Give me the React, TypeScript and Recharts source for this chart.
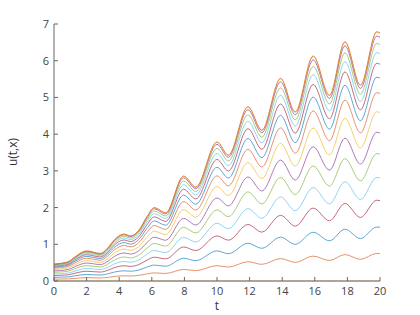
import { LineChart, Line, XAxis, YAxis } from "recharts";

document.body.style.margin = "0";

// time points (peaks / troughs of the outermost curve, plus a few early points)
const T = [0, 0.4, 0.9, 1.3, 2.0, 2.85, 3.3, 3.7, 4.3, 4.7, 5.2, 5.7, 6.15, 6.85, 7.95, 8.7, 10.0, 10.7, 11.9, 12.75, 13.9, 14.8, 15.9, 16.9, 17.85, 18.8, 19.8, 20];
// u(t, x=1)
const TOP = [0.46, 0.48, 0.53, 0.66, 0.82, 0.75, 0.9, 1.12, 1.28, 1.23, 1.38, 1.75, 2.0, 1.86, 2.86, 2.56, 3.79, 3.43, 4.75, 4.11, 5.52, 4.61, 6.13, 5.06, 6.52, 5.34, 6.79, 6.76];
// value of each curve at t≈20 (bottom to top)
const END = [0, 0.75, 1.47, 2.2, 2.82, 3.47, 4.05, 4.61, 5.13, 5.55, 5.93, 6.22, 6.47, 6.67, 6.77, 6.79];
const COLORS = ["#EDB120", "#D95319", "#0072BD", "#A2142F", "#4DBEEE", "#77AC30", "#7E2F8E"];
const X_TICKS = [0, 2, 4, 6, 8, 10, 12, 14, 16, 18, 20];
const Y_TICKS = [0, 1, 2, 3, 4, 5, 6, 7];

const topEnd = TOP[TOP.length - 2];
const data = T.map((t, i) => {
  const row: Record<string, number> = { t };
  END.forEach((e, k) => { row["u" + k] = (TOP[i] * e) / topEnd; });
  return row;
});

const lineColor = (k: number) => COLORS[k % COLORS.length];
const font = "'Open Sans', 'DejaVu Sans', sans-serif";

function XTick({ x, y, payload }: any) {
  return (
    <g>
      <line x1={x} y1={y} x2={x} y2={y - 4} stroke="#666" />
      <text x={x} y={y + 14} textAnchor="middle" fontSize={11} fill="#444" fontFamily={font}>{payload.value}</text>
    </g>
  );
}

function YTick({ x, y, payload }: any) {
  return (
    <g>
      <line x1={x} y1={y} x2={x + 4} y2={y} stroke="#666" />
      <text x={x - 5} y={y + 4} textAnchor="end" fontSize={11} fill="#444" fontFamily={font}>{payload.value}</text>
    </g>
  );
}

export default function App() {
  return (
    <LineChart width={420} height={315} data={data} margin={{ top: 24, right: 40, bottom: 4, left: 0 }}>
      <XAxis dataKey="t" type="number" domain={[0, 20]} ticks={X_TICKS} stroke="#666"
        tickLine={false} tickSize={0} tickMargin={0} tick={<XTick />} height={30}
        label={{ content: () => <text x={217} y={310} textAnchor="middle" fontSize={12} fill="#333" fontFamily={font}>t</text> }} />
      <YAxis type="number" domain={[0, 7]} ticks={Y_TICKS} stroke="#666" width={54}
        tickLine={false} tickSize={0} tickMargin={0} tick={<YTick />}
        label={{ content: () => <text x={17} y={152} transform="rotate(-90 17 152)" textAnchor="middle" fontSize={12} fill="#333" fontFamily={font}>u(t,x)</text> }} />
      {END.map((_, k) => (
        <Line key={k} dataKey={"u" + k} type="monotone" stroke={lineColor(k)} strokeWidth={0.9}
          strokeOpacity={0.7} dot={false} isAnimationActive={false} />
      ))}
    </LineChart>
  );
}
